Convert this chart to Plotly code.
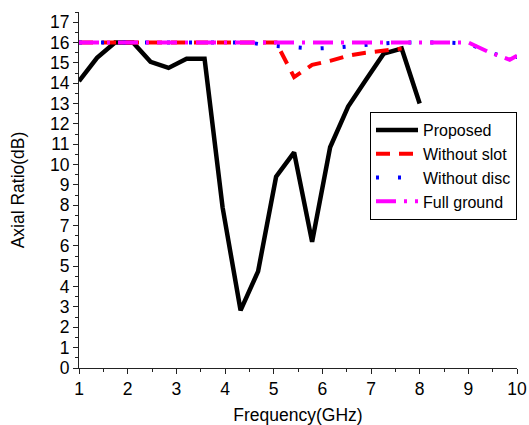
import plotly.graph_objects as go

# Proposed
x_prop = [1.0, 1.37, 1.74, 2.11, 2.47, 2.84, 3.21, 3.58, 3.95, 4.32, 4.68,
          5.05, 5.42, 5.79, 6.16, 6.53, 6.89, 7.26, 7.63, 8.0]
y_prop = [14.1, 15.25, 16.0, 16.0, 15.05, 14.75, 15.2, 15.2, 7.9, 2.83, 4.75,
          9.4, 10.6, 6.2, 10.85, 12.85, 14.15, 15.45, 15.7, 13.0]

# Without slot
x_slot = [1.0, 1.37, 1.74, 2.11, 2.47, 2.84, 3.21, 3.58, 3.95, 4.32, 4.68,
          5.05, 5.42, 5.79, 6.16, 6.53, 6.89, 7.26, 7.63]
y_slot = [16.0, 16.0, 16.0, 16.0, 16.0, 16.0, 16.0, 16.0, 16.0, 16.0, 16.0,
          16.0, 14.3, 14.9, 15.1, 15.35, 15.5, 15.6, 15.7]

# Without disc
x_disc = [1.0, 1.5, 2.0, 2.5, 3.0, 3.5, 4.0, 4.5, 4.9, 5.4, 5.85, 6.3, 6.7,
          7.2, 7.6, 8.0, 8.5, 9.0, 9.4, 9.85, 10.0]
y_disc = [16.0, 16.0, 16.0, 16.0, 16.0, 16.0, 16.0, 16.0, 15.85, 15.75, 15.7,
          15.75, 15.85, 15.95, 16.0, 16.0, 16.0, 15.95, 15.55, 15.2, 15.3]

# Full ground
x_full = [1.0, 2.0, 3.0, 4.0, 5.0, 6.0, 7.0, 8.0, 9.0, 9.4, 9.85, 10.0]
y_full = [16.0, 16.0, 16.0, 16.0, 16.0, 16.0, 16.0, 16.0, 16.0, 15.55, 15.15, 15.35]

x_ticks = [1, 2, 3, 4, 5, 6, 7, 8, 9, 10]
y_ticks = list(range(0, 18))

FONT = "Liberation Sans, Arial, sans-serif"
FS = 17.5

fig = go.Figure()
fig.add_trace(go.Scatter(x=x_prop, y=y_prop, mode="lines", name="Proposed",
                         line=dict(color="black", width=4.5)))
fig.add_trace(go.Scatter(x=x_slot, y=y_slot, mode="lines", name="Without slot",
                         line=dict(color="#ff0000", width=4, dash="14px,9px")))
fig.add_trace(go.Scatter(x=x_disc, y=y_disc, mode="lines", name="Without disc",
                         line=dict(color="#0000ff", width=4, dash="3px,19px")))
fig.add_trace(go.Scatter(x=x_full, y=y_full, mode="lines", name="Full ground",
                         line=dict(color="#ff00ff", width=4, dash="20px,8px,3px,8px")))

axis_common = dict(
    showgrid=False, zeroline=False, showline=True, linecolor="#222", linewidth=1,
    ticks="outside", ticklen=5, tickwidth=1, tickcolor="#222",
    tickfont=dict(family=FONT, size=FS, color="black"),
    mirror=False, automargin=False,
)

fig.update_xaxes(range=[1, 10], tickvals=x_ticks,
                 minor=dict(ticks="outside", ticklen=3, dtick=0.5, tickcolor="#222"),
                 title=dict(text="Frequency(GHz)", font=dict(family=FONT, size=FS, color="black"),
                            standoff=10),
                 **axis_common)
fig.update_yaxes(range=[0, 17.5], tickvals=y_ticks,
                 minor=dict(ticks="outside", ticklen=3, dtick=0.5, tickcolor="#222"),
                 title=dict(text="Axial Ratio(dB)", font=dict(family=FONT, size=FS, color="black"),
                            standoff=20),
                 **axis_common)

fig.update_layout(
    width=529, height=425,
    margin=dict(l=79, r=12, t=12, b=57, autoexpand=False),
    plot_bgcolor="white", paper_bgcolor="white",
    font=dict(family=FONT, size=FS, color="black"),
    legend=dict(xref="container", yref="container",
                x=370 / 529, y=1 - 112 / 425, xanchor="left", yanchor="top",
                bgcolor="white", bordercolor="black", borderwidth=1,
                font=dict(family=FONT, size=16, color="black"),
                itemwidth=42, tracegroupgap=0),
    showlegend=True,
)

fig.write_html("out.html")
